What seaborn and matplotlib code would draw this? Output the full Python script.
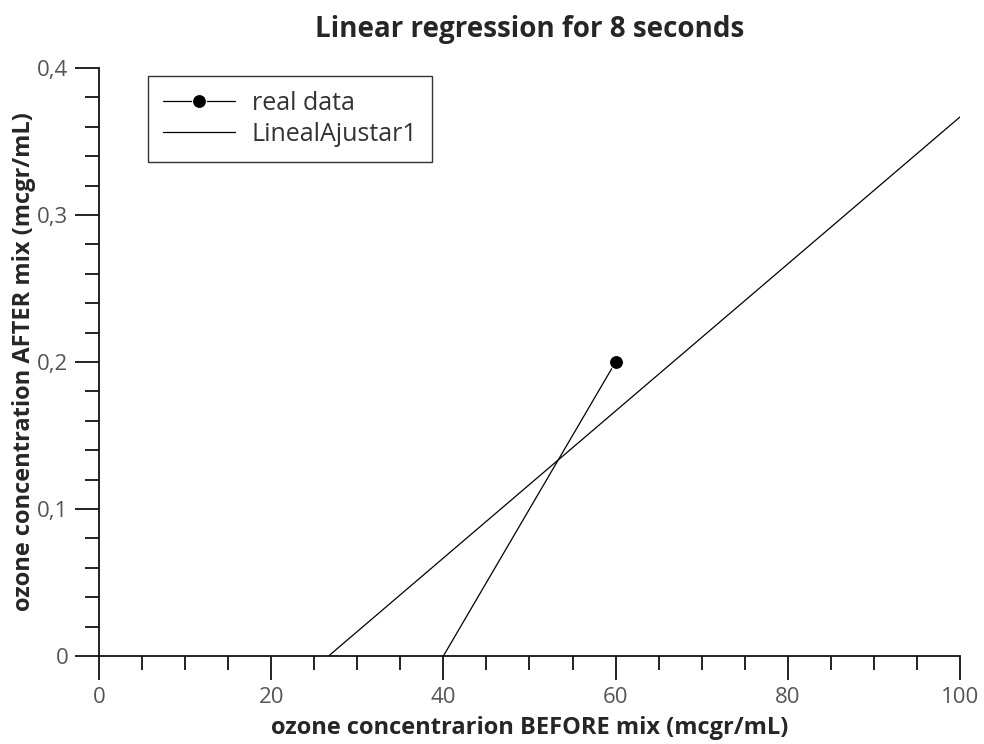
import numpy as np
import pandas as pd
import matplotlib
matplotlib.use("Agg")
import matplotlib.pyplot as plt
import seaborn as sns
from matplotlib.ticker import MultipleLocator, FuncFormatter

# values
real_x = [40, 60]
real_y = [0.0, 0.2]
fit_x = [26.67, 100]
fit_y = [0.0, 0.3667]

sns.set_style("ticks")
plt.rcParams["font.family"] = ["Open Sans", "DejaVu Sans"]

fig = plt.figure(figsize=(9.84, 7.44), dpi=100)
ax = fig.add_axes([0.1006, 0.1183, 0.875, 0.7903])

sns.lineplot(x=real_x, y=real_y, ax=ax, color="black", linewidth=0.9,
             marker="o", markersize=10, markevery=[1], label="real data")
sns.lineplot(x=fit_x, y=fit_y, ax=ax, color="black", linewidth=0.9,
             label="LinealAjustar1")

ax.set_xlim(0, 100)
ax.set_ylim(0, 0.4)
ax.xaxis.set_major_locator(MultipleLocator(20))
ax.xaxis.set_minor_locator(MultipleLocator(5))
ax.yaxis.set_major_locator(MultipleLocator(0.1))
ax.yaxis.set_minor_locator(MultipleLocator(0.02))
ax.yaxis.set_major_formatter(FuncFormatter(lambda v, p: "0" if abs(v) < 1e-9 else f"{v:.1f}".replace(".", ",")))

ax.tick_params(which="major", length=17, width=1.3, color="#111111", labelsize=16,
               labelcolor="#555555", pad=5)
ax.tick_params(which="minor", length=10, width=1.3, color="#111111")

for s in ["top", "right"]:
    ax.spines[s].set_visible(False)
for s in ["left", "bottom"]:
    ax.spines[s].set_linewidth(1.3)
    ax.spines[s].set_color("#111111")

ax.set_title("Linear regression for 8 seconds", fontsize=20, fontweight="bold", pad=22)
ax.set_xlabel("ozone concentrarion BEFORE mix (mcgr/mL)", fontsize=17, fontweight="bold", labelpad=6)
ax.set_ylabel("ozone concentration AFTER mix (mcgr/mL)", fontsize=17, fontweight="bold", labelpad=1)

leg = ax.legend(loc="upper left", bbox_to_anchor=(0.0569, 0.986), borderaxespad=0,
                frameon=True, fancybox=False, edgecolor="black", fontsize=18,
                handlelength=2.9, borderpad=0.6, labelspacing=0.22, handletextpad=0.65)
leg.get_frame().set_linewidth(1.0)
for t in leg.get_texts():
    t.set_color("#333333")

fig.savefig("out.png", dpi=100)
